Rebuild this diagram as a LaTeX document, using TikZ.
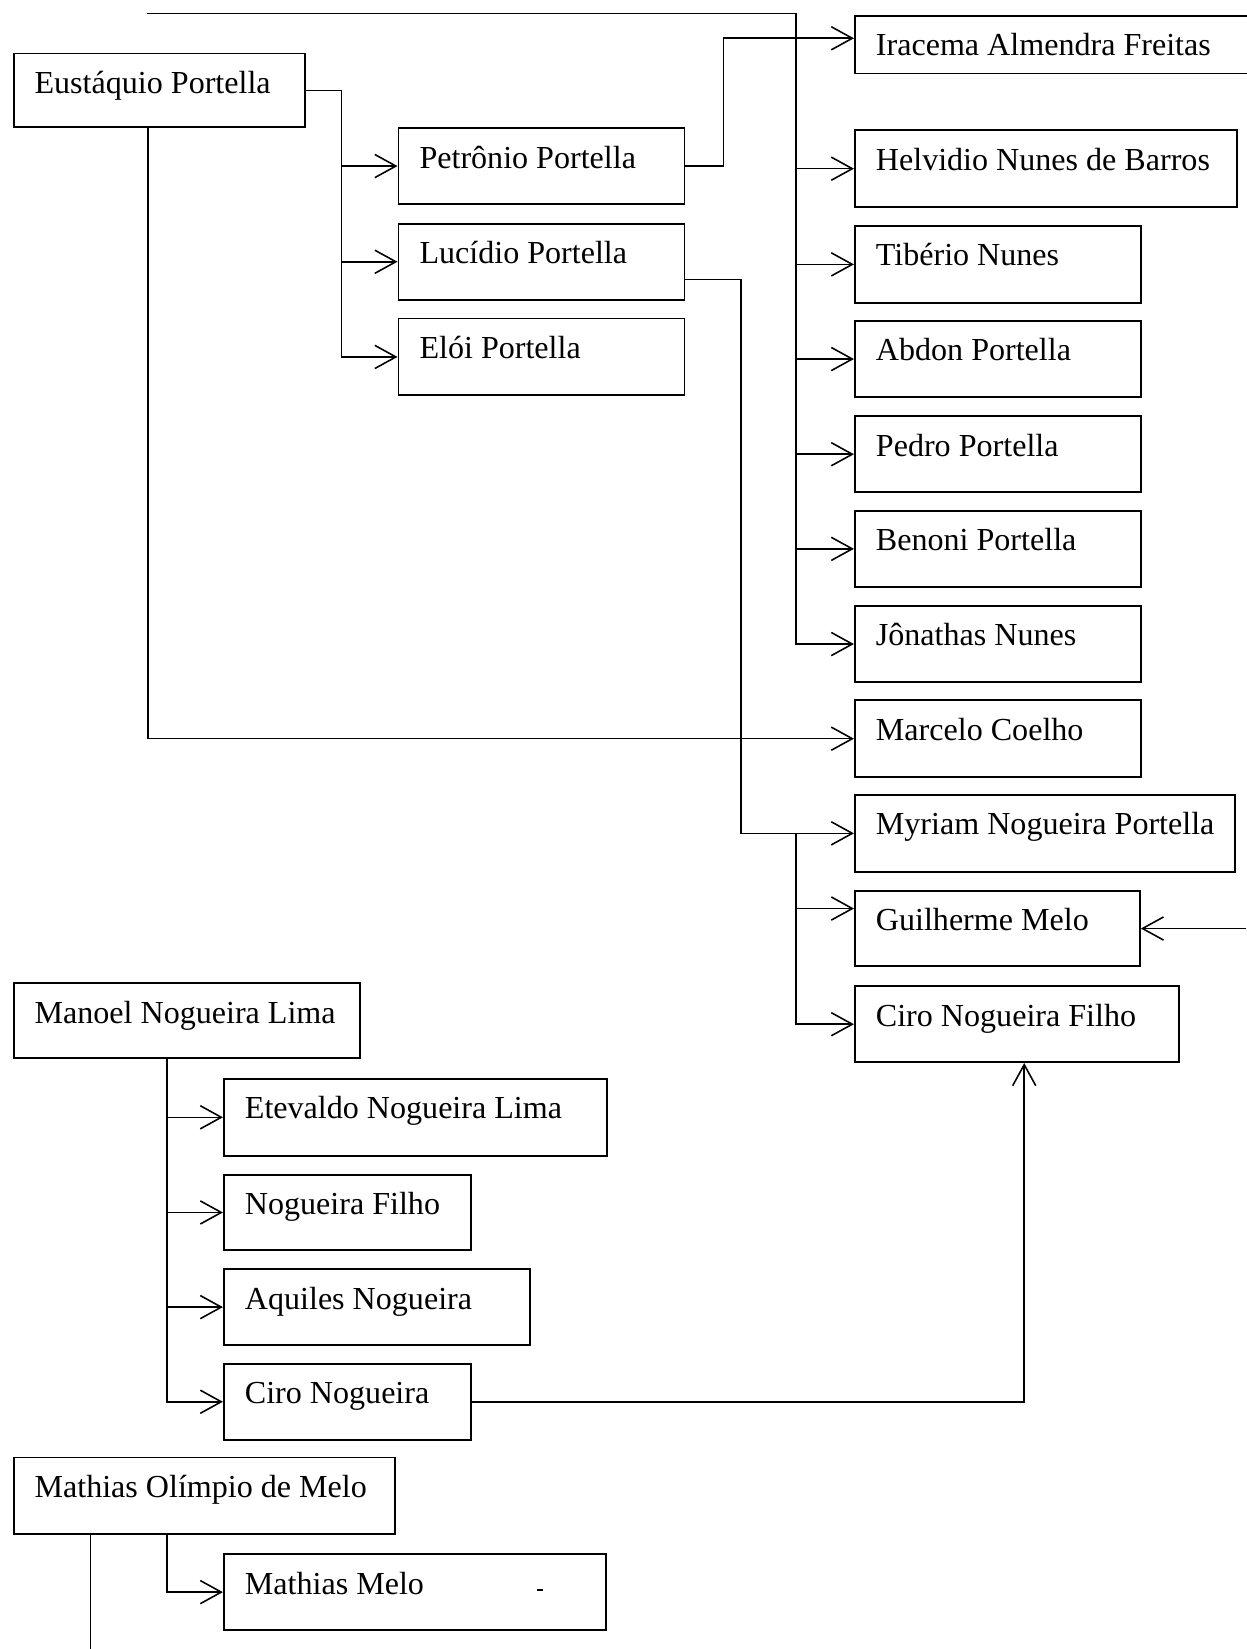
\documentclass[tikz,border=0pt]{standalone}
\usepackage{fontspec}
\setmainfont{Liberation Serif}
\usetikzlibrary{arrows.meta,calc}
\tikzset{
  famnode/.style={draw, line width=1.8pt, inner xsep=20pt, inner ysep=0pt,
    text height=38pt, anchor=north west, font=\fontsize{30.5}{36}\selectfont},
  link/.style={line width=1.5pt},
  arr/.style={link, -{Straight Barb[length=20pt,width=22pt]}},
}
% name, left, top, width, depth below baseline, text
\newcommand\personbox[6]{%
  \node[famnode, text depth=#5pt] (#1) at (#2,#3)
    {\makebox[\dimexpr#4pt-40pt\relax][l]{#6}};}
\begin{document}
\begin{tikzpicture}[x=1pt,y=-1pt]
\fill[white] (0,0) rectangle (1185,1568);
\useasboundingbox (0,0) rectangle (1185,1568);

% Portella family
\personbox{eust}{12}{50}{277}{32}{Eustáquio Portella}
\personbox{petr}{378}{121}{272}{34}{Petrônio Portella}
\personbox{luci}{378}{212}{272}{34}{Lucídio Portella}
\personbox{eloi}{378}{302}{272}{35}{Elói Portella}

\personbox{irac}{812}{14}{374}{17}{Iracema Almendra Freitas}
\personbox{helv}{812}{123}{363}{35}{Helvidio Nunes de Barros}
\personbox{tibe}{812}{214}{272}{35}{Tibério Nunes}
\personbox{abdo}{812}{304}{272}{35}{Abdon Portella}
\personbox{pedr}{812}{395}{272}{34}{Pedro Portella}
\personbox{beno}{812}{485}{272}{34}{Benoni Portella}
\personbox{jona}{812}{575}{272}{35}{Jônathas Nunes}
\personbox{marc}{812}{665}{272}{35}{Marcelo Coelho}
\personbox{myri}{812}{755}{361}{35}{Myriam Nogueira Portella}
\personbox{guil}{812}{846}{271}{34}{Guilherme Melo}
\personbox{cirf}{812}{937}{308}{34}{Ciro Nogueira Filho}

% Nogueira family
\personbox{mano}{12}{934}{329}{33}{Manoel Nogueira Lima}
\personbox{etev}{212}{1025}{364}{35}{Etevaldo Nogueira Lima}
\personbox{nogf}{212}{1116}{235}{34}{Nogueira Filho}
\personbox{aqui}{212}{1206}{291}{34}{Aquiles Nogueira}
\personbox{ciro}{212}{1296}{235}{34}{Ciro Nogueira}

% Melo family
\personbox{math}{12}{1385}{363}{35}{Mathias Olímpio de Melo}
\personbox{mmel}{212}{1477}{363}{34}{Mathias Melo}

% free ends of connectors
\coordinate (topstart) at (140,13);
\coordinate (trunk) at (757,13);
\coordinate (rightedge) at (1185,882);
\coordinate (bottomedge) at (85,1568);

% trunk coming in from the top
\draw[arr] (topstart) -- (trunk) |- (jona.west);
\foreach \n in {helv,tibe,abdo,pedr,beno}
  \draw[arr] (trunk |- \n.west) -- (\n.west);

% children of Eustáquio
\coordinate (ej) at ($(eust.east)+(34,0)$);
\draw[arr] (eust.east) -- (ej) |- (eloi.west);
\foreach \n in {petr,luci}
  \draw[arr] (ej |- \n.west) -- (\n.west);
\draw[arr] ([xshift=-10.5pt]eust.south) |- (marc.west);

% Petrônio to Iracema
\draw[arr] (petr.east) -- ++(36,0) |- ([yshift=6pt]irac.west);

% Lucídio to Myriam, and on to Guilherme and Ciro Filho
\draw[arr] ([yshift=-17pt]luci.east) -- ++(53,0) |- (myri.west);
\path ([yshift=19pt]guil.west) coordinate (guilin);
\draw[arr] (trunk |- myri.west) |- (cirf.west);
\draw[arr] (trunk |- guilin) -- (guilin);
\draw[arr] (guil.east -| rightedge) -- (guil.east);

% Ciro Nogueira to Ciro Nogueira Filho
\draw[arr] (ciro.east) -| ([xshift=7pt]cirf.south);

% children of Manoel
\coordinate (mj) at ([xshift=-18.5pt]mano.south);
\draw[arr] (mj) |- (ciro.west);
\foreach \n in {etev,nogf,aqui}
  \draw[arr] (mj |- \n.west) -- (\n.west);

% children of Mathias
\draw[arr] ([xshift=-35.5pt]math.south) |- (mmel.west);
\coordinate (ml) at ([xshift=-108.5pt]math.south);
\draw[link] (ml) -- (ml |- bottomedge);

% small mark inside the last box
\coordinate (speck) at (511,1512);
\draw[line width=1.2pt] (speck) -- ++(5,0);
\end{tikzpicture}
\end{document}
